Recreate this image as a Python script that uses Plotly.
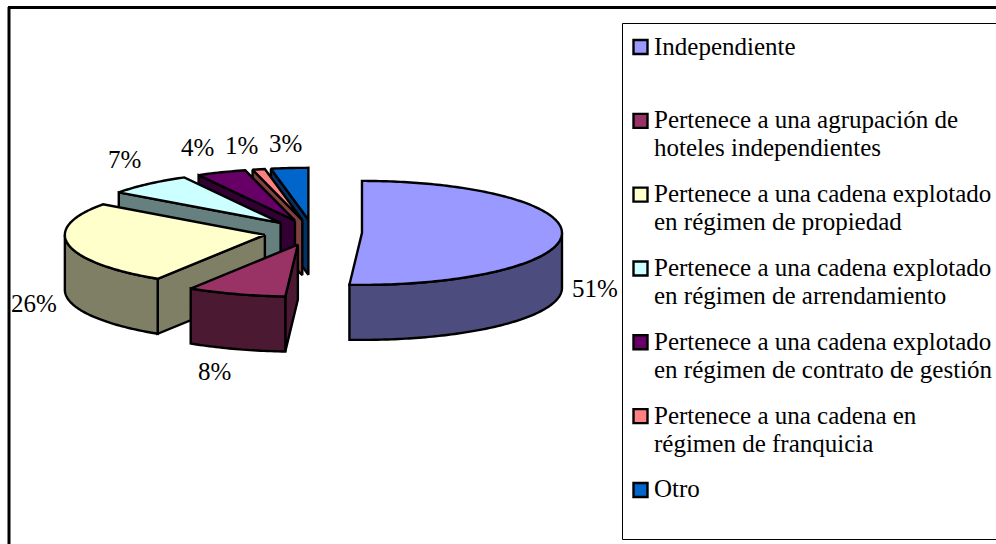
import math
import plotly.graph_objects as go

# ---- data ----
categories = [
    "Independiente",
    "Pertenece a una agrupación de<br>hoteles independientes",
    "Pertenece a una cadena explotado<br>en régimen de propiedad",
    "Pertenece a una cadena explotado<br>en régimen de arrendamiento",
    "Pertenece a una cadena explotado<br>en régimen de contrato de gestión",
    "Pertenece a una cadena en<br>régimen de franquicia",
    "Otro",
]
values = [51, 8, 26, 7, 4, 1, 3]

# ---- style ----
colors = ["#9999FF", "#993366", "#FFFFCC", "#CCFFFF", "#660066", "#FF8080", "#0066CC"]
FONT = "Liberation Serif"
FS = 25
W, H = 996, 544
CX, CY, RX, RY, DEPTH, EXPLODE = 313, 232.5, 200, 52, 55, 49
OUT = dict(color="#000000", width=2.4)
label_xy = [(595, 288), (214, 371), (34, 303), (124, 159), (197, 147), (241, 145), (285, 143)]


def darker(c):
    return "#%02X%02X%02X" % tuple(int(c[i:i + 2], 16) // 2 for i in (1, 3, 5))


def rim(ax, ay, deg):
    a = math.radians(deg)
    return ax + RX * math.sin(a), ay - RY * math.cos(a)


def arc(ax, ay, a1, a2):
    n = max(2, int(abs(a2 - a1)) + 1)
    return [rim(ax, ay, a1 + (a2 - a1) * i / (n - 1)) for i in range(n)]


fig = go.Figure()


def poly(pts, fill):
    xs = [p[0] for p in pts] + [pts[0][0]]
    ys = [p[1] for p in pts] + [pts[0][1]]
    fig.add_trace(go.Scatter(x=xs, y=ys, mode="lines", fill="toself", fillcolor=fill,
                             line=dict(color=OUT["color"], width=OUT["width"], simplify=False),
                             hoverinfo="skip", showlegend=False))


total = sum(values)
slices, acc = [], 0
for v, c in zip(values, colors):
    a1 = 360 * acc / total
    a2 = 360 * (acc + v) / total
    mid = math.radians((a1 + a2) / 2)
    ax = CX + EXPLODE * math.sin(mid)
    ay = CY - EXPLODE * math.cos(mid) * RY / RX
    slices.append((math.cos(mid), a1, a2, ax, ay, c))
    acc += v

# paint from back to front
for _, a1, a2, ax, ay, c in sorted(slices, key=lambda s: -s[0]):
    side = darker(c)
    if math.sin(math.radians(a1)) < -1e-6:  # cut face at the starting angle
        p = rim(ax, ay, a1)
        poly([(ax, ay), p, (p[0], p[1] + DEPTH), (ax, ay + DEPTH)], side)
    if math.sin(math.radians(a2)) > 1e-6:  # cut face at the end angle
        p = rim(ax, ay, a2)
        poly([(ax, ay), p, (p[0], p[1] + DEPTH), (ax, ay + DEPTH)], side)
    lo, hi = max(a1, 90), min(a2, 270)
    if hi > lo:  # outer wall, front half only
        top = arc(ax, ay, lo, hi)
        poly(top + [(x, y + DEPTH) for x, y in reversed(top)], side)
    poly([(ax, ay)] + arc(ax, ay, a1, a2), c)

# legend swatches and texts
ann = []
leg_y = [47 + 73.83 * i for i in range(len(categories))]
fig.add_trace(go.Scatter(x=[640.5] * len(categories), y=leg_y, mode="markers",
                         marker=dict(symbol="square", size=14, color=colors,
                                     line=dict(color="#000000", width=2.4)),
                         hoverinfo="skip", showlegend=False))
for name, y in zip(categories, leg_y):
    for i, line in enumerate(name.split("<br>")):
        ann.append(dict(x=652, y=y - 1 + 28 * i, text=line, xanchor="left", yanchor="middle",
                        showarrow=False, xref="x", yref="y", font=dict(family=FONT, size=FS, color="#000000")))

# percentage labels
for v, (x, y) in zip(values, label_xy):
    ann.append(dict(x=x, y=y, text=f"{v}%", xanchor="center", yanchor="middle", showarrow=False,
                    xref="x", yref="y", font=dict(family=FONT, size=FS, color="#000000")))

shapes = [
    dict(type="line", x0=9, x1=9, y0=7, y1=H, xref="x", yref="y", line=dict(color="#000000", width=3)),
    dict(type="line", x0=8, x1=W, y0=7.5, y1=7.5, xref="x", yref="y", line=dict(color="#000000", width=3)),
    dict(type="rect", x0=622.5, x1=W + 10, y0=23.5, y1=539.5, xref="x", yref="y",
         line=dict(color="#000000", width=1)),
]

fig.update_layout(
    width=W, height=H, margin=dict(l=0, r=0, t=0, b=0),
    paper_bgcolor="white", plot_bgcolor="white", showlegend=False,
    xaxis=dict(range=[0, W], visible=False, fixedrange=True),
    yaxis=dict(range=[H, 0], visible=False, fixedrange=True),
    annotations=ann, shapes=shapes,
)
fig.write_html("out.html", config=dict(displayModeBar=False),
               post_script="document.body.style.margin='0';document.body.style.overflow='hidden';")
